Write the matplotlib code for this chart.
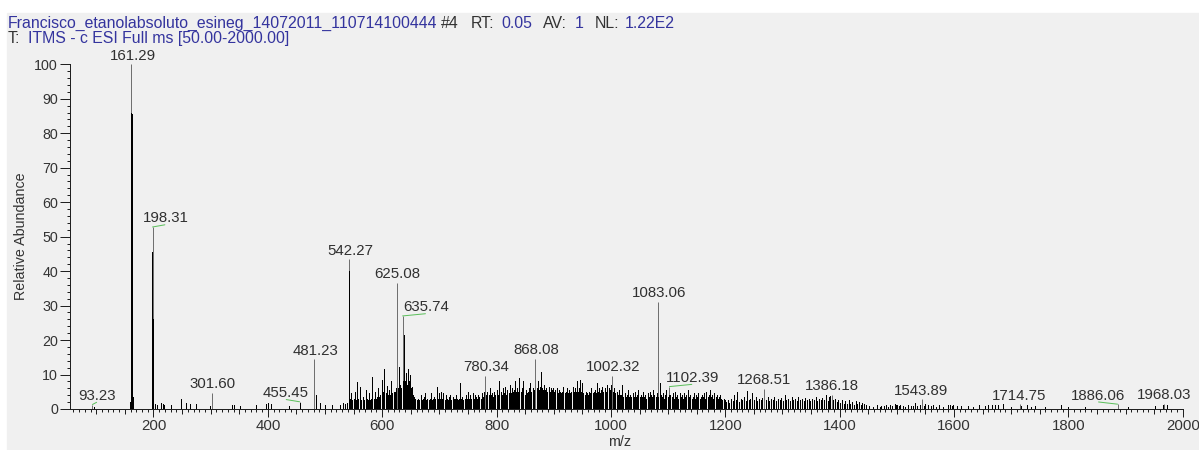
import numpy as np
import matplotlib
matplotlib.use('Agg')
import matplotlib.pyplot as plt
from matplotlib.patches import Rectangle

plt.rcParams['font.family'] = ['Liberation Sans', 'DejaVu Sans']

# labelled peaks (m/z, relative abundance)
label_mz = [93.23, 161.29, 198.31, 301.60, 455.45, 481.23, 542.27, 625.08, 635.74, 780.34,
            868.08, 1002.32, 1083.06, 1102.39, 1268.51, 1386.18, 1543.89, 1714.75, 1886.06, 1968.03]
label_int = [1.3, 100, 52.8, 4.7, 2.1, 14.4, 43.4, 36.6, 27.0, 9.6,
             14.5, 9.6, 31.1, 6.5, 5.8, 4.1, 2.8, 1.4, 1.4, 1.5]

low_mz = [96, 158.5, 160.9, 161.9, 162.9, 164.6, 197.5, 199.3, 203, 207,
          213, 216, 219, 231, 249, 256, 264, 274, 298, 337,
          340, 352, 380, 397, 400, 405, 437, 457, 483.5, 485,
          492, 500, 512, 527, 531, 535, 538, 541.8, 542.7]
low_int = [0.5, 2.0, 86, 85.5, 22.9, 3.5, 45.5, 26, 1.5, 1.2,
           1.8, 1.5, 1.3, 1.2, 2.8, 1.6, 1.5, 1.5, 1.0, 1.3,
           1.2, 0.8, 1.3, 1.5, 1.7, 1.4, 0.9, 1.6, 4.0, 2.5,
           1.8, 1.3, 1.1, 1.2, 1.6, 1.4, 1.8, 40, 40]

seg1_mz = [544, 546, 548, 550, 552, 554, 556, 558, 561, 563, 566, 568, 571, 573, 575, 577, 579, 581,
           583, 585, 587, 589, 591, 593, 595, 597, 599, 601, 603.5, 606, 608, 610, 612, 614, 616, 618,
           620, 622, 624, 627, 629, 631, 633, 637, 638.5, 640, 641.5, 643, 645, 647, 648.5, 650, 652,
           654, 656, 658, 660, 662, 664, 667, 669, 671, 673, 675, 677, 679, 681, 683, 685, 687, 689,
           691, 693, 695, 697, 699, 701, 703, 705, 707, 709, 711, 713, 715, 717, 719, 721, 723, 725,
           727, 729, 731, 733, 735, 736.5, 738, 740, 742, 744, 746, 748, 750, 752]
seg1_int = [3, 4.5, 2.5, 3, 5, 2.5, 7.9, 3, 6.5, 2.5, 3.5, 2.5, 5.5, 3, 2.5, 4.5, 2.5, 3,
            9.4, 3, 5, 3, 3.5, 6, 3.5, 4, 8.4, 5, 11.5, 4.5, 6.7, 4, 5.5, 4, 8, 4.5,
            5, 5, 6, 6, 12.3, 7, 6, 8, 21.4, 8, 10.5, 7, 11.5, 8, 10, 6, 6.5,
            4, 3.6, 3, 2.6, 3, 2.5, 4, 2.5, 3, 3.5, 4.5, 2.5, 3, 2.6, 3, 4.6, 2.5, 3,
            3.5, 3, 6.5, 3, 4.5, 3, 5, 3, 4.5, 2.5, 4, 3, 2.5, 3.5, 4, 2.5, 3.5, 3,
            3, 4, 3, 2.5, 3, 7.6, 3, 3.5, 2.5, 3, 4, 3, 5, 3]

seg2_mz = [754, 756, 758, 760, 762, 764, 766, 768, 770, 772, 774, 776, 778, 782, 784, 786, 788, 790,
           792, 794, 796, 798, 800, 802, 803.5, 805, 807, 809, 811, 813, 815, 817, 819, 821, 823, 825,
           827, 829, 831, 832.5, 834, 836, 838, 840, 842, 844, 845.5, 847, 849, 851, 853, 855, 857,
           859, 861, 863, 865, 870, 872, 874, 876, 877.5, 879, 881, 883, 885, 887, 889, 891, 893,
           895, 897, 899, 901, 903, 905, 907, 909, 911, 913, 915, 917, 919, 921, 923, 925, 927, 929,
           931, 933, 935, 937, 939, 940.5, 942, 944, 946, 948, 950, 952, 954, 956, 958, 960, 962,
           964, 966, 968, 970, 972, 974, 975.5, 977, 979, 981, 983, 985, 987, 989, 991, 992.5, 994,
           996, 998, 1000, 1004, 1006, 1008, 1010, 1012, 1014, 1016]
seg2_int = [4, 3, 4.5, 3, 4, 3.5, 3, 4, 3.5, 3, 4.5, 3.5, 5, 4, 5, 4, 6, 4,
            4.5, 3.5, 5, 4, 5.5, 4, 8, 4.5, 5, 4, 6, 4.5, 6.5, 4, 5.5, 4.5, 7, 4.5,
            6, 5, 5.5, 8, 5, 6, 5, 8.9, 5, 6, 8, 5, 4, 5.5, 4.5, 5, 6,
            7.4, 5, 6, 5.5, 6, 8, 5.5, 6.5, 10.8, 6, 5.5, 7, 5.5, 6, 5, 6.5, 5,
            6, 5.5, 6, 5, 5.5, 6, 4.5, 5.5, 5, 4.5, 5, 6.5, 4.5, 5, 6, 4.5, 5.5, 4.5,
            5, 6.5, 5, 6, 5, 8, 5, 6, 8.4, 5, 7.5, 4.5, 4, 5, 4.5, 4, 5,
            4.5, 6, 4.5, 5, 5.5, 4.5, 7.4, 5, 6, 4.5, 5.5, 6.5, 5, 6, 5, 6.9, 5,
            6, 5.5, 7, 5, 6, 4.5, 5, 4, 5.5, 4]

seg3_mz = [1018, 1020, 1022, 1024, 1026, 1028, 1030, 1032, 1034, 1036, 1038, 1040, 1042, 1044, 1046,
           1048, 1050, 1052, 1054, 1056, 1058, 1060, 1062, 1064, 1066, 1068, 1070, 1072, 1074, 1076,
           1078, 1080, 1081.5, 1085, 1087, 1089, 1091, 1093, 1095, 1097, 1099, 1101, 1104, 1106, 1108,
           1110, 1112, 1114, 1116, 1118, 1120, 1122, 1124, 1126, 1128, 1130, 1132, 1134, 1135.5, 1137,
           1139, 1141, 1143, 1145, 1147, 1149, 1151, 1153, 1155, 1157, 1159, 1161, 1163, 1165, 1167,
           1169, 1171, 1173, 1175, 1177, 1179, 1181, 1183, 1185, 1187, 1189, 1191, 1193, 1195, 1197, 1199]
seg3_int = [4, 6.9, 3.5, 4.5, 3.5, 4, 5.5, 3.5, 4, 3.5, 4.5, 3.5, 5, 3.5, 4,
            5.5, 3.5, 4, 3.5, 5, 3.5, 4, 3, 4.5, 3.5, 5, 4, 3.5, 5.5, 4,
            3.5, 4.5, 3.5, 7.4, 4, 3.5, 4.5, 3, 4, 5.5, 3.5, 4, 4, 3.5, 4.5,
            3, 5, 3.5, 4, 3, 4.5, 3.5, 4, 3, 4.5, 3.5, 4, 3.5, 5.5, 3.5,
            4, 3, 3.5, 4.5, 3, 4, 3.5, 4.5, 3, 3.5, 4, 3.5, 4.5, 3, 5,
            3.5, 4, 5.5, 3.5, 4, 3, 4.5, 3.5, 4, 3, 3.5, 4, 3, 2.5, 3, 2.5]

seg4_mz = [1201, 1204, 1207, 1210, 1213, 1216, 1219, 1221, 1224, 1227, 1230, 1233, 1236, 1238, 1241,
           1244, 1247, 1250, 1253, 1256, 1259, 1262, 1265, 1271, 1274, 1277, 1280, 1283, 1286, 1289,
           1292, 1295, 1298, 1301, 1304, 1307, 1310, 1313, 1316, 1319, 1322, 1325, 1328, 1331, 1334,
           1337, 1340, 1343, 1346, 1349, 1352, 1355, 1358, 1361, 1364, 1367, 1370, 1373, 1376, 1379,
           1382, 1384, 1389, 1392, 1395, 1398, 1401, 1404, 1407, 1410, 1413, 1416, 1419, 1422, 1425,
           1428, 1431, 1434, 1437, 1440, 1443, 1446]
seg4_int = [2, 2.5, 1.8, 3, 2.2, 4, 2.5, 4.8, 2, 3, 2.5, 3.5, 2.2, 5.3, 2.5,
            3, 4.5, 2.5, 3.5, 2.2, 3, 2.5, 3.2, 2.5, 3.5, 2.2, 3, 2.5, 3.5, 2.2,
            3, 2.5, 3.2, 2.2, 4.2, 2.5, 3, 2.2, 3.5, 2.5, 3, 2.2, 3.5, 2.5, 3,
            2.2, 3.2, 2.5, 3, 2.2, 3, 2.5, 3.5, 2.2, 3, 2.5, 3.2, 2.5, 4, 2.2,
            3.5, 3.8, 2.5, 3, 2, 2.5, 1.8, 2.5, 1.5, 2.2, 1.5, 2.5, 1.5, 2, 1.2,
            2.3, 1.5, 2, 1.2, 1.8, 1.5, 1.2]

high_mz = [1452, 1458, 1465, 1470, 1473, 1478, 1481, 1485, 1488, 1492, 1497, 1499, 1501, 1504, 1506,
           1511, 1515, 1520, 1524, 1528, 1532, 1536, 1540, 1547, 1550, 1555, 1560, 1564, 1568, 1573,
           1580, 1590, 1593, 1596, 1599, 1605, 1613, 1625, 1633, 1643, 1654, 1660, 1666, 1672, 1677,
           1686, 1700, 1718, 1727, 1735, 1742, 1760, 1788, 1800, 1830, 1905, 1952, 1966, 1972]
high_int = [1.0, 0.6, 1.2, 0.7, 1.0, 0.8, 1.2, 0.7, 1.3, 0.9, 1.4, 1.1, 1.3, 0.9, 1.2,
            1.0, 0.7, 1.2, 0.8, 1.0, 1.6, 0.9, 1.2, 1.0, 1.4, 1.3, 0.8, 1.2, 0.7, 1.1,
            0.6, 1.3, 1.2, 0.9, 1.1, 1.0, 0.9, 1.0, 0.6, 1.1, 1.0, 1.2, 1.1, 1.3, 1.1,
            1.5, 0.6, 0.9, 1.2, 0.7, 1.0, 0.6, 1.3, 0.5, 0.6, 0.5, 1.0, 1.3, 1.1]

# label shift in pixels (x), labels with a green leader are pushed sideways
label_dx = [4.4, 1.8, 13, 1.3, -14, 1, 1, 1, 24, 1.3,
            0.5, 0.7, 0.5, 23.5, 0, 0, -1, -0.5, -20, 0]
leader = [True, False, True, False, True, False, False, False, True, False,
          False, False, False, True, False, False, False, False, True, False]

W, H = 1199, 450
PT = 72.0 / 100  # points per pixel


def main():
    minor_mz = low_mz + seg1_mz + seg2_mz + seg3_mz + seg4_mz + high_mz
    minor_int = low_int + seg1_int + seg2_int + seg3_int + seg4_int + high_int
    assert len(minor_mz) == len(minor_int)

    fig = plt.figure(figsize=(W / 100, H / 100), dpi=100)
    fig.patches.append(Rectangle((7 / W, 0), 1 - 7 / W, 1 - 13 / H, transform=fig.transFigure,
                                 color='#f0f0f0', zorder=-10))
    ax = fig.add_axes([70 / W, 1 - 409 / H, (1182.7 - 70) / W, (409 - 64.3) / H])
    ax.set_facecolor('none')

    ax.vlines(label_mz, 0, label_int, color='#707070', lw=1.0 * PT, zorder=2)
    ax.vlines(minor_mz, 0, minor_int, color='black', lw=1.0 * PT, zorder=3, antialiased=False)

    for mz, v, dx, lead in zip(label_mz, label_int, label_dx, leader):
        ax.annotate('{:.2f}'.format(mz), xy=(mz, v), xytext=(dx * PT, 4.6 * PT),
                    textcoords='offset points', ha='center', va='baseline',
                    fontsize=10.8, color='#303030', annotation_clip=False, zorder=5)
        if lead:
            ax.annotate('', xy=(mz, v), xytext=(dx * PT * 0.95, 2.2 * PT),
                        textcoords='offset points', annotation_clip=False,
                        arrowprops=dict(arrowstyle='-', color='#5cc05c', lw=1.0 * PT,
                                        shrinkA=0, shrinkB=0))

    ax.set_xlim(54, 2000)
    ax.set_ylim(0, 100)
    for s in ['top', 'right']:
        ax.spines[s].set_visible(False)
    for s in ['left', 'bottom']:
        ax.spines[s].set_color('#202020')
        ax.spines[s].set_linewidth(1.0 * PT)

    ax.set_yticks(np.arange(0, 101, 10))
    ax.set_yticks(np.arange(0, 101, 2), minor=True)
    xt = np.arange(100, 2001, 50)
    ax.set_xticks(xt, [str(v) if v % 200 == 0 else '' for v in xt])
    ax.set_xticks(np.arange(60, 2001, 10), minor=True)
    ax.tick_params(axis='y', which='major', length=10 * PT, width=PT, pad=2 * PT,
                   labelsize=10.3, labelcolor='#333333', color='#202020')
    ax.tick_params(axis='y', which='minor', length=3.5 * PT, width=PT, color='#202020')
    ax.tick_params(axis='x', which='major', length=8 * PT, width=PT, pad=2.5 * PT,
                   labelsize=10.8, labelcolor='#333333', color='#202020')
    ax.tick_params(axis='x', which='minor', length=2.7 * PT, width=PT, color='#202020')
    for t, v in zip(ax.xaxis.get_major_ticks(), xt):
        if v % 200 != 0:
            t.tick1line.set_markersize(5 * PT)

    fig.text(20.8 / W, 1 - 235.7 / H, 'Relative Abundance', rotation=90, ha='center', va='center',
             fontsize=10.3, color='#333333')
    fig.text(620 / W, 1 - 442 / H, 'm/z', ha='center', va='center', fontsize=10.3, color='#333333')

    blue, dark = '#34349e', '#333333'
    header = [('Francisco_etanolabsoluto_esineg_14072011_110714100444', 8, blue),
              ('#4', 440.7, dark), ('RT:', 470.7, dark), ('0.05', 501, blue),
              ('AV:', 543, dark), ('1', 575, blue), ('NL:', 595, dark), ('1.22E2', 625, blue)]
    for txt, x, c in header:
        fig.text(x / W, 1 - 28.3 / H, txt, ha='left', va='baseline', fontsize=11.4, color=c)
    fig.text(8 / W, 1 - 43.3 / H, 'T:', ha='left', va='baseline', fontsize=11.4, color=dark)
    fig.text(28 / W, 1 - 43.3 / H, 'ITMS - c ESI Full ms [50.00-2000.00]', ha='left',
             va='baseline', fontsize=11.4, color=blue)

    fig.savefig('out.png', dpi=100)


if __name__ == "__main__":
    main()
